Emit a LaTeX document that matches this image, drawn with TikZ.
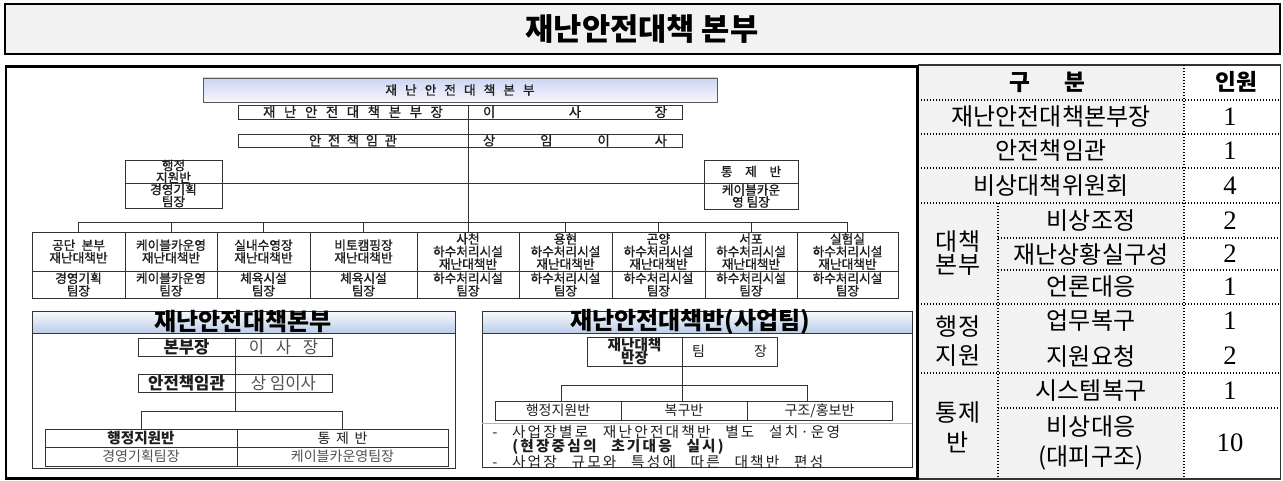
\documentclass[tikz,border=0pt]{standalone}
\usepackage{fontspec}
\setmainfont{Noto Sans CJK KR}
\newfontfamily\krm{Noto Sans CJK KR}[FakeBold=1.2]
\newfontfamily\krs{Noto Sans CJK KR}[LetterSpace=15]
\newfontfamily\numfont{Liberation Serif}
\usetikzlibrary{fit}
\definecolor{titlefill}{HTML}{F2F2F2}
\definecolor{cellfill}{HTML}{F2F2F2}
\definecolor{ink}{HTML}{1E1E1E}
\definecolor{linec}{HTML}{333333}
\definecolor{hdrtop}{HTML}{F8FAFD}
\definecolor{hdrbot}{HTML}{BACDE8}
\definecolor{bandtop}{HTML}{CCD4F2}
\definecolor{bandbot}{HTML}{F6F8FE}
\definecolor{graytext}{HTML}{505050}
\newcommand\bx[5]{\node[box,fit={#2 #3}] (#1) {};\node[txt,#4] (#1-t) at (#1.center) {#5};}
\begin{document}
\lineskiplimit=-50pt\lineskip=0pt
\begin{tikzpicture}[x=0.75pt,y=-0.75pt,
  box/.style={draw=linec, line width=0.7pt, inner sep=0pt, outer sep=0pt},
  txt/.style={inner sep=0pt, outer sep=0pt, align=center, text=ink},
  conn/.style={draw=linec, line width=0.7pt},
  dotline/.style={black, line width=0.9pt, dash pattern=on 0.75pt off 1.5pt},
  tt/.style={txt, text=black, font=\fontsize{18}{22}\selectfont},
  tn/.style={txt, text=black, font=\numfont\fontsize{20}{22}\selectfont},
  f9/.style={font=\krm\fontsize{10}{11}\selectfont},
  colt/.style={font=\krm\fontsize{9.5}{9.4}\selectfont},
  f105/.style={font=\krm\fontsize{9.5}{9}\selectfont},
  f10/.style={font=\fontsize{10.5}{12}\selectfont},
  f11b/.style={font=\fontsize{11}{12}\bfseries\selectfont},
  f12b/.style={font=\fontsize{12.5}{14}\bfseries\selectfont},
  f12/.style={font=\fontsize{12.5}{14}\selectfont, text=graytext},
  hdr/.style={txt, font=\fontsize{18}{20}\bfseries\selectfont, text=black},
  note/.style={inner sep=0pt, anchor=west, text=ink, font=\krs\fontsize{11}{13}\selectfont}
]
\useasboundingbox (0,0) rectangle (1283,481);

% ---------- title ----------
\node[draw=black, line width=2pt, fill=titlefill, inner sep=0pt, fit={(5,4)(1280,54)}] (title) {};
\node[txt, text=black, font=\fontsize{23}{26}\bfseries\selectfont] (title-t) at (642,29) {재난안전대책 본부};

% ---------- table ----------
\fill[cellfill] (918,65) rectangle (1184,479);
\draw[linec, line width=0.8pt] (918,65) -- (1280.5,65) -- (1280.5,479) -- (918,479);
\foreach \yy in {100,134,168,203,304,373} \draw[dotline] (918,\yy) -- (1280,\yy);
\foreach \yy in {238,270,408} \draw[dotline] (998,\yy) -- (1280,\yy);
\draw[dotline] (1184,65) -- (1184,479);
\draw[dotline] (998,203) -- (998,479);

\node[txt, text=black, font=\fontsize{17}{20}\bfseries\selectfont] (h1) at (1047,82) {구\hspace{1.5em}분};
\node[txt, text=black, font=\fontsize{17}{20}\bfseries\selectfont] (h2) at (1236,82) {인원};
\node[tt] (t1) at (1051,117) {재난안전대책본부장};
\node[tt] (t2) at (1051,151) {안전책임관};
\node[tt] (t3) at (1051,186) {비상대책위원회};
\node[tt, font=\fontsize{18}{17.5}\selectfont] (g1) at (958,253) {대책\\본부};
\node[tt] (s1) at (1091,221) {비상조정};
\node[tt] (s2) at (1091,254) {재난상황실구성};
\node[tt] (s3) at (1091,287) {언론대응};
\node[tt, font=\fontsize{18}{21.5}\selectfont] (g2) at (958,341) {행정\\지원};
\node[tt] (s4) at (1091,321) {업무복구};
\node[tt] (s5) at (1091,356) {지원요청};
\node[tt, font=\fontsize{18}{22.5}\selectfont] (g3) at (958,427) {통제\\반};
\node[tt] (s6) at (1091,391) {시스템복구};
\node[tt, font=\fontsize{18}{22.5}\selectfont] (s7) at (1091,443) {비상대응\\(대피구조)};
\node[tn] (n1) at (1230,117) {1};
\node[tn] (n2) at (1230,151) {1};
\node[tn] (n3) at (1230,186) {4};
\node[tn] (n4) at (1230,221) {2};
\node[tn] (n5) at (1230,254) {2};
\node[tn] (n6) at (1230,287) {1};
\node[tn] (n7) at (1230,321) {1};
\node[tn] (n8) at (1230,356) {2};
\node[tn] (n9) at (1230,391) {1};
\node[tn] (n10) at (1230,443) {10};

% ---------- image frame ----------
\draw[black, line width=2pt] (6,66.5) rectangle (917.5,478.5);

% ---------- upper org chart ----------
\node[box, draw=gray!70!black, top color=bandtop, bottom color=bandbot, fit={(203,78)(717,102)}] (hq) {};
\node[txt, font=\krm\fontsize{9.5}{10}\selectfont] (hq-t) at (hq.center) {\spaceskip=6pt\relax 재 난 안 전 대 책 본 부};

\bx{r1l}{(238,105)}{(468,119)}{f9}{\spaceskip=6.5pt\relax 재 난 안 전 대 책 본 부 장}
\bx{r1r}{(468,105)}{(682,119)}{f9}{\makebox[138pt]{이\hfill 사\hfill 장}}
\bx{r2l}{(238,134)}{(468,147)}{f9}{\spaceskip=5pt\relax 안 전 책 임 관}
\bx{r2r}{(468,134)}{(682,147)}{f9}{\makebox[138pt]{상\hfill 임\hfill 이\hfill 사}}

\bx{ha}{(125,160)}{(222,183)}{f105}{행정\\지원반}
\bx{hb}{(125,183)}{(222,208)}{f105}{경영기획\\팀장}
\bx{ta}{(704,160)}{(798,183)}{f105}{통\hspace{1em}제\hspace{1em}반}
\bx{tb}{(704,183)}{(798,209)}{f105}{케이블카운\\영 팀장}

% nine teams
\bx{c1t}{(32,232)}{(125,271)}{colt}{공단\hspace{0.5em}본부\\재난대책반}
\bx{c2t}{(125,232)}{(217,271)}{colt}{케이블카운영\\재난대책반}
\bx{c3t}{(217,232)}{(310,271)}{colt}{실내수영장\\재난대책반}
\bx{c4t}{(310,232)}{(417,271)}{colt}{비토캠핑장\\재난대책반}
\bx{c5t}{(417,232)}{(519,271)}{colt}{사천\\하수처리시설\\재난대책반}
\bx{c6t}{(519,232)}{(612,271)}{colt}{용현\\하수처리시설\\재난대책반}
\bx{c7t}{(612,232)}{(705,271)}{colt}{곤양\\하수처리시설\\재난대책반}
\bx{c8t}{(705,232)}{(797,271)}{colt}{서포\\하수처리시설\\재난대책반}
\bx{c9t}{(797,232)}{(898,271)}{colt}{실험실\\하수처리시설\\재난대책반}
\bx{c1b}{(32,271)}{(125,298)}{colt}{경영기획\\팀장}
\bx{c2b}{(125,271)}{(217,298)}{colt}{케이블카운영\\팀장}
\bx{c3b}{(217,271)}{(310,298)}{colt}{체육시설\\팀장}
\bx{c4b}{(310,271)}{(417,298)}{colt}{체육시설\\팀장}
\bx{c5b}{(417,271)}{(519,298)}{colt}{하수처리시설\\팀장}
\bx{c6b}{(519,271)}{(612,298)}{colt}{하수처리시설\\팀장}
\bx{c7b}{(612,271)}{(705,298)}{colt}{하수처리시설\\팀장}
\bx{c8b}{(705,271)}{(797,298)}{colt}{하수처리시설\\팀장}
\bx{c9b}{(797,271)}{(898,298)}{colt}{하수처리시설\\팀장}

% connectors
\draw[conn] (r1r.south west) -- (r2r.north west);
\draw[conn] (r2r.south west) -- (c5t.north);
\draw[conn] (ha.south east) -- (tb.north west);
\coordinate (bus) at (0,222);
\draw[conn] (c1t.north |- bus) -- (c9t.north |- bus);
\foreach \c in {c1t,c2t,c3t,c4t,c6t,c7t,c8t,c9t} \draw[conn] (\c.north |- bus) -- (\c.north);

% ---------- lower-left chart ----------
\node[box, fit={(32,311)(455,468)}] (subL) {};
\node[box, top color=hdrtop, bottom color=hdrbot, fit={(32,311)(455,333)}] (subLh) {};
\node[hdr] (subLh-t) at (243,322) {재난안전대책본부};
\bx{A1}{(138,338)}{(235,356)}{f12b}{본부장}
\bx{A2}{(235,338)}{(332,356)}{f12}{이\hspace{0.7em}사\hspace{0.7em}장}
\bx{B1}{(138,374)}{(235,392)}{f12b}{안전책임관}
\bx{B2}{(235,374)}{(332,392)}{f12}{상 임이사}
\bx{bl1}{(45,429)}{(237,447)}{f11b}{행정지원반}
\bx{bl2}{(237,429)}{(448,447)}{f10}{통\hspace{0.4em}제\hspace{0.4em}반}
\bx{bl3}{(45,447)}{(237,466)}{f10, text=graytext}{경영기획팀장}
\bx{bl4}{(237,447)}{(448,466)}{f10, text=graytext}{케이블카운영팀장}
\coordinate (busA) at (0,411);
\draw[conn] (A1.south east) -- (B1.north east);
\draw[conn] (B1.south east) -- (B1.south east |- busA);
\draw[conn] (bl1.north |- busA) -- (bl2.north |- busA);
\draw[conn] (bl1.north |- busA) -- (bl1.north);
\draw[conn] (bl2.north |- busA) -- (bl2.north);

% ---------- lower-right chart ----------
\node[box, fit={(482,311)(912,467)}] (subR) {};
\node[box, top color=hdrtop, bottom color=hdrbot, fit={(482,311)(912,333)}] (subRh) {};
\node[hdr] (subRh-t) at (690,322) {재난안전대책반(사업팀)};
\bx{C1}{(587,337)}{(682,366)}{font=\fontsize{11}{10}\bfseries\selectfont}{재난대책\\반장}
\bx{C2}{(682,337)}{(777,366)}{f10}{팀\hspace{3.5em}장}
\bx{b1}{(495,401)}{(621,420)}{f10}{행정지원반}
\bx{b2}{(621,401)}{(747,420)}{f10}{복구반}
\bx{b3}{(747,401)}{(892,420)}{f10}{구조/홍보반}
\coordinate (bBL) at (561,385);
\coordinate (bBR) at (807,385);
\draw[conn] (C1.south east) -- (C1.south east |- b2.north);
\draw[conn] (bBL) -- (bBR);
\draw[conn] (bBL) -- (bBL |- b1.north);
\draw[conn] (bBR) -- (bBR |- b3.north);
\coordinate (sepL) at (482,423);
\coordinate (sepR) at (912,423);
\draw[gray!60, line width=0.6pt] (sepL) -- (sepR);
\node[note] (note1) at (492,432) {\spaceskip=11pt\relax - 사업장별로 재난안전대책반 별도 설치·운영};
\node[note, font=\krs\fontsize{11}{13}\bfseries\selectfont] (note2) at (512,447) {\spaceskip=11pt\relax (현장중심의 초기대응 실시)};
\node[note] (note3) at (492,462) {\spaceskip=11pt\relax - 사업장 규모와 특성에 따른 대책반 편성};
\end{tikzpicture}
\end{document}
